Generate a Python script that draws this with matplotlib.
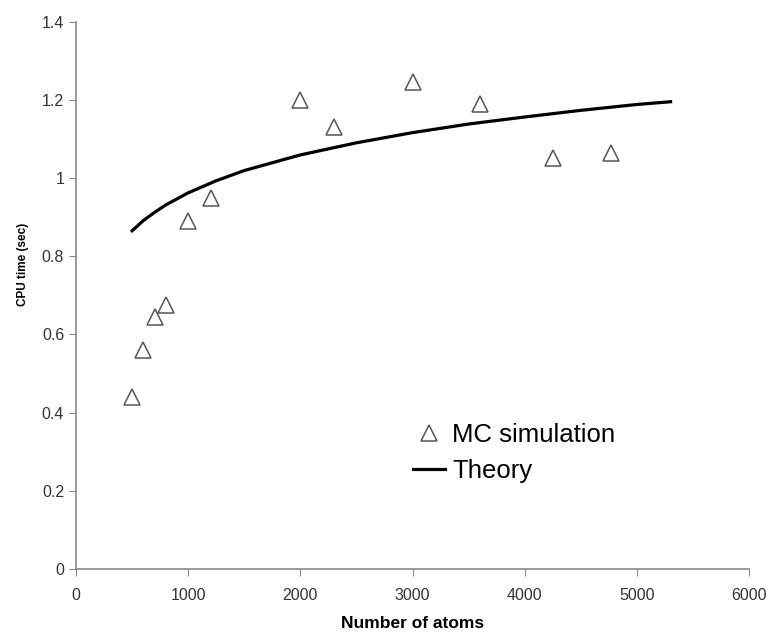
import matplotlib.pyplot as plt

# MC simulation points
n_atoms = [500, 600, 700, 800, 1000, 1200, 2000, 2300, 3000, 3600, 4250, 4770]
cpu_time = [0.44, 0.56, 0.645, 0.675, 0.89, 0.95, 1.20, 1.13, 1.245, 1.19, 1.05, 1.065]

# Theory curve
theory_x = [500, 600, 700, 800, 1000, 1250, 1500, 2000, 2500, 3000, 3500, 4000, 4500, 5000, 5300]
theory_y = [0.865, 0.891, 0.912, 0.931, 0.962, 0.993, 1.019, 1.059, 1.090, 1.116, 1.138, 1.156, 1.173, 1.188, 1.195]

plt.rcParams['font.family'] = ['Liberation Sans', 'DejaVu Sans']

fig = plt.figure(figsize=(7.71, 6.35), dpi=100)
ax = fig.add_axes([0.0986, 0.104, 0.873, 0.862])

ax.plot(n_atoms, cpu_time, linestyle='none', marker='^', markersize=12,
        markerfacecolor='white', markeredgecolor='#555555', markeredgewidth=1.1,
        label='MC simulation')
ax.plot(theory_x, theory_y, color='black', linewidth=2.3, label='Theory')

ax.set_xlim(0, 6000)
ax.set_ylim(0, 1.4)
ax.set_xticks(range(0, 6001, 1000))
ax.set_yticks([0, 0.2, 0.4, 0.6, 0.8, 1.0, 1.2, 1.4])
ax.set_yticklabels(['0', '0.2', '0.4', '0.6', '0.8', '1', '1.2', '1.4'])

for side in ['top', 'right']:
    ax.spines[side].set_visible(False)
for side in ['left', 'bottom']:
    ax.spines[side].set_color('#888888')
    ax.spines[side].set_linewidth(1.2)
ax.tick_params(direction='out', length=5, color='#888888', labelsize=11.5,
               labelcolor='#333333')
ax.tick_params(axis='x', pad=9)

ax.set_xlabel('Number of atoms', fontsize=12.5, fontweight='bold', va='top')
ax.xaxis.set_label_coords(0.5, -0.086)
ax.set_ylabel('CPU time (sec)', fontsize=8.5, fontweight='bold')
ax.yaxis.set_label_coords(-0.07, 0.556)

ax.legend(loc='upper left', bbox_to_anchor=(0.481, 0.291), frameon=False,
          fontsize=18.5, handlelength=1.25, handletextpad=0.3, labelspacing=0.5,
          borderpad=0)

fig.savefig('out.png', dpi=100)
